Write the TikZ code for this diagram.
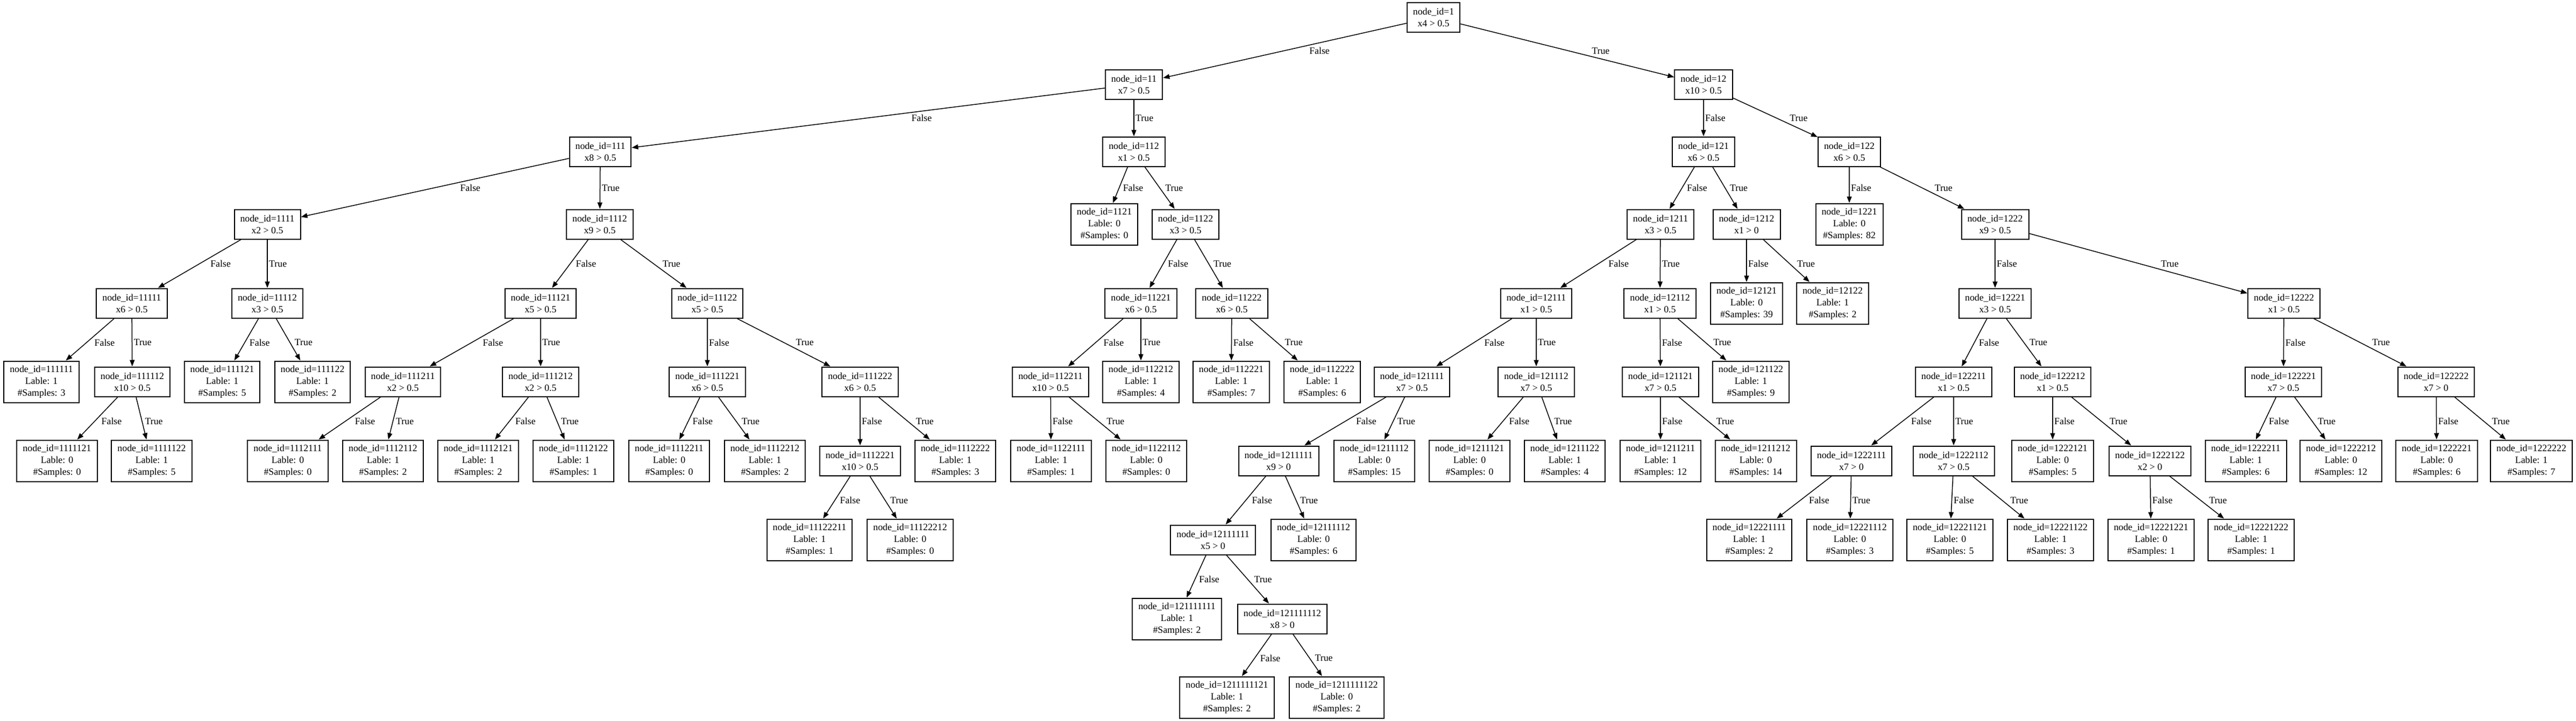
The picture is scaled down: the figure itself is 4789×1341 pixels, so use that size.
\documentclass[tikz,border=0pt]{standalone}
\usepackage{fontspec}
\setmainfont{Liberation Serif}
\usepackage{tikz}
\usetikzlibrary{calc}
\usetikzlibrary{arrows.meta}
\def\treefont{\fontsize{17.8}{22}\selectfont}
% 枝と False/True のラベル
\newcommand{\tfedge}[3]{%
  \draw[branch] (#1)--(#2);%
  \path let \p1=(#1.center), \p2=(#2.center), \n1={abs(\x2-\x1)/abs(\y2-\y1)} in
    node[lbl] at ($(\p1)!.5!(\p2)+({\n1*10+3},0)$) {#3};%
}
\tikzset{
  splitnode/.style={draw, line width=2pt, align=center, inner xsep=11pt, inner ysep=0pt, minimum height=55pt, font=\treefont},
  leafnode/.style={splitnode, minimum height=77pt},
  branch/.style={->, >={Triangle[length=12pt,width=9pt]}, line width=1.5pt},
  lbl/.style={anchor=west, inner sep=0pt, font=\treefont},
}

\begin{document}
\begin{tikzpicture}[x=1pt,y=-1pt]

              \fill[white] (0,0) rectangle (4789,1341); %背景
              \useasboundingbox (0,0) rectangle (4789,1341);

              % 深さ0,1,2
              \node[splitnode] (N1) at (2665,32) {node\_id=1\\x4 > 0.5}; %根
              \node[splitnode] (N11) at (2108,157) {node\_id=11\\x7 > 0.5};
              \node[splitnode] (N12) at (3167,157) {node\_id=12\\x10 > 0.5};
              \node[splitnode] (N111) at (1116,282) {node\_id=111\\x8 > 0.5};
              \node[splitnode] (N112) at (2108,282) {node\_id=112\\x1 > 0.5};
              \node[splitnode] (N121) at (3167,282) {node\_id=121\\x6 > 0.5};
              \node[splitnode] (N122) at (3438,282) {node\_id=122\\x6 > 0.5};

              % 深さ3
              \node[splitnode] (N1111) at (497,417) {node\_id=1111\\x2 > 0.5};
              \node[splitnode] (N1112) at (1115,417) {node\_id=1112\\x9 > 0.5};
              \node[leafnode] (N1121) at (2053,417) {node\_id=1121\\Lable: 0\\\#Samples: 0};
              \node[splitnode] (N1122) at (2204,417) {node\_id=1122\\x3 > 0.5};
              \node[splitnode] (N1211) at (3087,417) {node\_id=1211\\x3 > 0.5};
              \node[splitnode] (N1212) at (3247,417) {node\_id=1212\\x1 > 0};
              \node[leafnode] (N1221) at (3438,417) {node\_id=1221\\Lable: 0\\\#Samples: 82};
              \node[splitnode] (N1222) at (3709,417) {node\_id=1222\\x9 > 0.5};

              % 深さ4
              \node[splitnode] (N11111) at (245,564) {node\_id=11111\\x6 > 0.5};
              \node[splitnode] (N11112) at (497,564) {node\_id=11112\\x3 > 0.5};
              \node[splitnode] (N11121) at (1005,564) {node\_id=11121\\x5 > 0.5};
              \node[splitnode] (N11122) at (1315,564) {node\_id=11122\\x5 > 0.5};
              \node[splitnode] (N11221) at (2121,564) {node\_id=11221\\x6 > 0.5};
              \node[splitnode] (N11222) at (2290,564) {node\_id=11222\\x6 > 0.5};
              \node[splitnode] (N12111) at (2856,564) {node\_id=12111\\x1 > 0.5};
              \node[splitnode] (N12112) at (3086,564) {node\_id=12112\\x1 > 0.5};
              \node[leafnode] (N12121) at (3247,564) {node\_id=12121\\Lable: 0\\\#Samples: 39};
              \node[leafnode] (N12122) at (3407,564) {node\_id=12122\\Lable: 1\\\#Samples: 2};
              \node[splitnode] (N12221) at (3709,564) {node\_id=12221\\x3 > 0.5};
              \node[splitnode] (N12222) at (4246,564) {node\_id=12222\\x1 > 0.5};

              % 深さ5
              \node[leafnode] (N111111) at (77,710) {node\_id=111111\\Lable: 1\\\#Samples: 3};
              \node[splitnode] (N111112) at (246,710) {node\_id=111112\\x10 > 0.5};
              \node[leafnode] (N111121) at (413,710) {node\_id=111121\\Lable: 1\\\#Samples: 5};
              \node[leafnode] (N111122) at (581,710) {node\_id=111122\\Lable: 1\\\#Samples: 2};
              \node[splitnode] (N111211) at (749,710) {node\_id=111211\\x2 > 0.5};
              \node[splitnode] (N111212) at (1005,710) {node\_id=111212\\x2 > 0.5};
              \node[splitnode] (N111221) at (1315,710) {node\_id=111221\\x6 > 0.5};
              \node[splitnode] (N111222) at (1599,710) {node\_id=111222\\x6 > 0.5};
              \node[splitnode] (N112211) at (1953,710) {node\_id=112211\\x10 > 0.5};
              \node[leafnode] (N112212) at (2121,710) {node\_id=112212\\Lable: 1\\\#Samples: 4};
              \node[leafnode] (N112221) at (2289,710) {node\_id=112221\\Lable: 1\\\#Samples: 7};
              \node[leafnode] (N112222) at (2458,710) {node\_id=112222\\Lable: 1\\\#Samples: 6};
              \node[splitnode] (N121111) at (2625,710) {node\_id=121111\\x7 > 0.5};
              \node[splitnode] (N121112) at (2856,710) {node\_id=121112\\x7 > 0.5};
              \node[splitnode] (N121121) at (3087,710) {node\_id=121121\\x7 > 0.5};
              \node[leafnode] (N121122) at (3255,710) {node\_id=121122\\Lable: 1\\\#Samples: 9};
              \node[splitnode] (N122211) at (3632,710) {node\_id=122211\\x1 > 0.5};
              \node[splitnode] (N122212) at (3816,710) {node\_id=122212\\x1 > 0.5};
              \node[splitnode] (N122221) at (4245,710) {node\_id=122221\\x7 > 0.5};
              \node[splitnode] (N122222) at (4529,710) {node\_id=122222\\x7 > 0};

              % 深さ6
              \node[leafnode] (N1111121) at (106,857) {node\_id=1111121\\Lable: 0\\\#Samples: 0};
              \node[leafnode] (N1111122) at (282,857) {node\_id=1111122\\Lable: 1\\\#Samples: 5};
              \node[leafnode] (N1112111) at (535,857) {node\_id=1112111\\Lable: 0\\\#Samples: 0};
              \node[leafnode] (N1112112) at (712,857) {node\_id=1112112\\Lable: 1\\\#Samples: 2};
              \node[leafnode] (N1112121) at (889,857) {node\_id=1112121\\Lable: 1\\\#Samples: 2};
              \node[leafnode] (N1112122) at (1066,857) {node\_id=1112122\\Lable: 1\\\#Samples: 1};
              \node[leafnode] (N1112211) at (1244,857) {node\_id=1112211\\Lable: 0\\\#Samples: 0};
              \node[leafnode] (N1112212) at (1422,857) {node\_id=1112212\\Lable: 1\\\#Samples: 2};
              \node[splitnode] (N1112221) at (1599,857) {node\_id=1112221\\x10 > 0.5};
              \node[leafnode] (N1112222) at (1776,857) {node\_id=1112222\\Lable: 1\\\#Samples: 3};
              \node[leafnode] (N1122111) at (1954,857) {node\_id=1122111\\Lable: 1\\\#Samples: 1};
              \node[leafnode] (N1122112) at (2131,857) {node\_id=1122112\\Lable: 0\\\#Samples: 0};
              \node[splitnode] (N1211111) at (2377,857) {node\_id=1211111\\x9 > 0};
              \node[leafnode] (N1211112) at (2555,857) {node\_id=1211112\\Lable: 0\\\#Samples: 15};
              \node[leafnode] (N1211121) at (2732,857) {node\_id=1211121\\Lable: 0\\\#Samples: 0};
              \node[leafnode] (N1211122) at (2909,857) {node\_id=1211122\\Lable: 1\\\#Samples: 4};
              \node[leafnode] (N1211211) at (3087,857) {node\_id=1211211\\Lable: 1\\\#Samples: 12};
              \node[leafnode] (N1211212) at (3264,857) {node\_id=1211212\\Lable: 0\\\#Samples: 14};
              \node[splitnode] (N1222111) at (3442,857) {node\_id=1222111\\x7 > 0};
              \node[splitnode] (N1222112) at (3632,857) {node\_id=1222112\\x7 > 0.5};
              \node[leafnode] (N1222121) at (3816,857) {node\_id=1222121\\Lable: 0\\\#Samples: 5};
              \node[splitnode] (N1222122) at (3997,857) {node\_id=1222122\\x2 > 0};
              \node[leafnode] (N1222211) at (4175,857) {node\_id=1222211\\Lable: 1\\\#Samples: 6};
              \node[leafnode] (N1222212) at (4352,857) {node\_id=1222212\\Lable: 0\\\#Samples: 12};
              \node[leafnode] (N1222221) at (4530,857) {node\_id=1222221\\Lable: 0\\\#Samples: 6};
              \node[leafnode] (N1222222) at (4706,857) {node\_id=1222222\\Lable: 1\\\#Samples: 7};

              % 深さ7,8,9
              \node[leafnode] (N11122211) at (1505,1004) {node\_id=11122211\\Lable: 1\\\#Samples: 1};
              \node[leafnode] (N11122212) at (1692,1004) {node\_id=11122212\\Lable: 0\\\#Samples: 0};
              \node[splitnode] (N12111111) at (2255,1004) {node\_id=12111111\\x5 > 0};
              \node[leafnode] (N12111112) at (2442,1004) {node\_id=12111112\\Lable: 0\\\#Samples: 6};
              \node[leafnode] (N12221111) at (3252,1004) {node\_id=12221111\\Lable: 1\\\#Samples: 2};
              \node[leafnode] (N12221112) at (3439,1004) {node\_id=12221112\\Lable: 0\\\#Samples: 3};
              \node[leafnode] (N12221121) at (3625,1004) {node\_id=12221121\\Lable: 0\\\#Samples: 5};
              \node[leafnode] (N12221122) at (3812,1004) {node\_id=12221122\\Lable: 1\\\#Samples: 3};
              \node[leafnode] (N12221221) at (3999,1004) {node\_id=12221221\\Lable: 0\\\#Samples: 1};
              \node[leafnode] (N12221222) at (4185,1004) {node\_id=12221222\\Lable: 1\\\#Samples: 1};
              \node[leafnode] (N121111111) at (2188,1151) {node\_id=121111111\\Lable: 1\\\#Samples: 2};
              \node[splitnode] (N121111112) at (2384,1151) {node\_id=121111112\\x8 > 0};
              \node[leafnode] (N1211111121) at (2281,1297) {node\_id=1211111121\\Lable: 1\\\#Samples: 2};
              \node[leafnode] (N1211111122) at (2485,1297) {node\_id=1211111122\\Lable: 0\\\#Samples: 2};

              % 枝
              \tfedge{N1}{N11}{False} \tfedge{N1}{N12}{True}
              \tfedge{N11}{N111}{False} \tfedge{N11}{N112}{True}
              \tfedge{N12}{N121}{False} \tfedge{N12}{N122}{True}
              \tfedge{N111}{N1111}{False} \tfedge{N111}{N1112}{True}
              \tfedge{N112}{N1121}{False} \tfedge{N112}{N1122}{True}
              \tfedge{N121}{N1211}{False} \tfedge{N121}{N1212}{True}
              \tfedge{N122}{N1221}{False} \tfedge{N122}{N1222}{True}
              \tfedge{N1111}{N11111}{False} \tfedge{N1111}{N11112}{True}
              \tfedge{N1112}{N11121}{False} \tfedge{N1112}{N11122}{True}
              \tfedge{N1122}{N11221}{False} \tfedge{N1122}{N11222}{True}
              \tfedge{N1211}{N12111}{False} \tfedge{N1211}{N12112}{True}
              \tfedge{N1212}{N12121}{False} \tfedge{N1212}{N12122}{True}
              \tfedge{N1222}{N12221}{False} \tfedge{N1222}{N12222}{True}
              \tfedge{N11111}{N111111}{False} \tfedge{N11111}{N111112}{True}
              \tfedge{N11112}{N111121}{False} \tfedge{N11112}{N111122}{True}
              \tfedge{N11121}{N111211}{False} \tfedge{N11121}{N111212}{True}
              \tfedge{N11122}{N111221}{False} \tfedge{N11122}{N111222}{True}
              \tfedge{N11221}{N112211}{False} \tfedge{N11221}{N112212}{True}
              \tfedge{N11222}{N112221}{False} \tfedge{N11222}{N112222}{True}
              \tfedge{N12111}{N121111}{False} \tfedge{N12111}{N121112}{True}
              \tfedge{N12112}{N121121}{False} \tfedge{N12112}{N121122}{True}
              \tfedge{N12221}{N122211}{False} \tfedge{N12221}{N122212}{True}
              \tfedge{N12222}{N122221}{False} \tfedge{N12222}{N122222}{True}
              \tfedge{N111112}{N1111121}{False} \tfedge{N111112}{N1111122}{True}
              \tfedge{N111211}{N1112111}{False} \tfedge{N111211}{N1112112}{True}
              \tfedge{N111212}{N1112121}{False} \tfedge{N111212}{N1112122}{True}
              \tfedge{N111221}{N1112211}{False} \tfedge{N111221}{N1112212}{True}
              \tfedge{N111222}{N1112221}{False} \tfedge{N111222}{N1112222}{True}
              \tfedge{N112211}{N1122111}{False} \tfedge{N112211}{N1122112}{True}
              \tfedge{N121111}{N1211111}{False} \tfedge{N121111}{N1211112}{True}
              \tfedge{N121112}{N1211121}{False} \tfedge{N121112}{N1211122}{True}
              \tfedge{N121121}{N1211211}{False} \tfedge{N121121}{N1211212}{True}
              \tfedge{N122211}{N1222111}{False} \tfedge{N122211}{N1222112}{True}
              \tfedge{N122212}{N1222121}{False} \tfedge{N122212}{N1222122}{True}
              \tfedge{N122221}{N1222211}{False} \tfedge{N122221}{N1222212}{True}
              \tfedge{N122222}{N1222221}{False} \tfedge{N122222}{N1222222}{True}
              \tfedge{N1112221}{N11122211}{False} \tfedge{N1112221}{N11122212}{True}
              \tfedge{N1211111}{N12111111}{False} \tfedge{N1211111}{N12111112}{True}
              \tfedge{N1222111}{N12221111}{False} \tfedge{N1222111}{N12221112}{True}
              \tfedge{N1222112}{N12221121}{False} \tfedge{N1222112}{N12221122}{True}
              \tfedge{N1222122}{N12221221}{False} \tfedge{N1222122}{N12221222}{True}
              \tfedge{N12111111}{N121111111}{False} \tfedge{N12111111}{N121111112}{True}
              \tfedge{N121111112}{N1211111121}{False} \tfedge{N121111112}{N1211111122}{True}

\end{tikzpicture}
\end{document}
